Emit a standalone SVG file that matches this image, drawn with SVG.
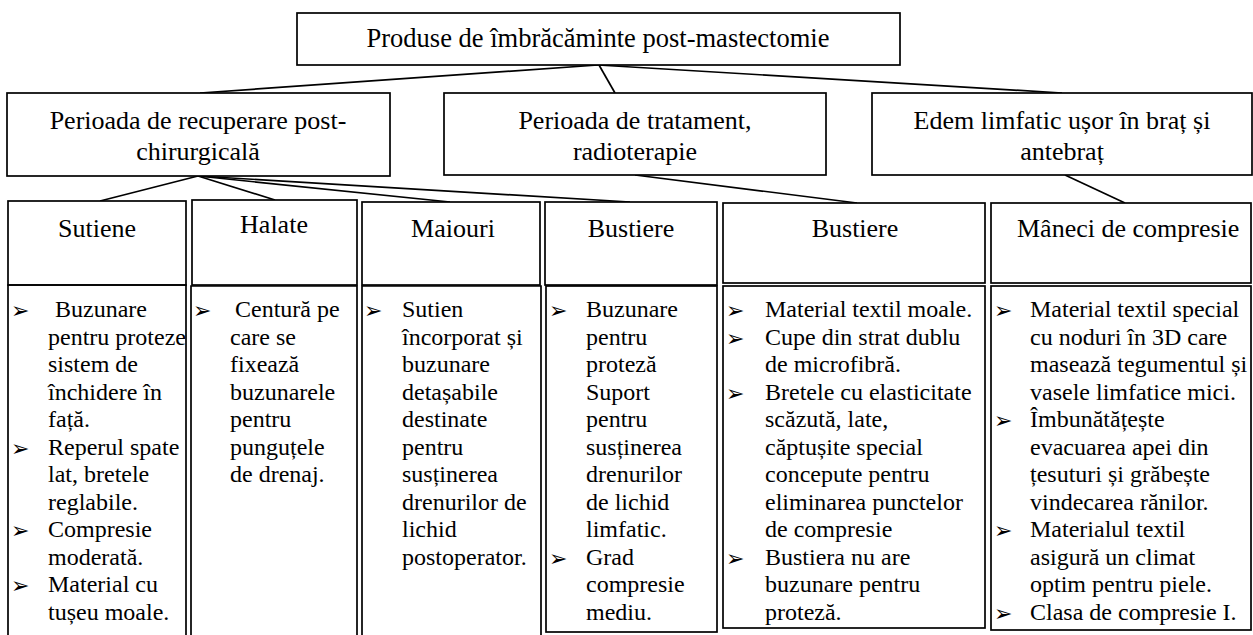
<svg xmlns="http://www.w3.org/2000/svg" width="1253" height="635" viewBox="0 0 1253 635">
<style>
.box{fill:#fff;stroke:#000;stroke-width:1.7}
.ln{stroke:#000;stroke-width:1.7;fill:none}
.t{font-family:"Liberation Serif","Times New Roman",serif;font-size:26px;fill:#000}
.c{text-anchor:middle}
.b{font-family:"Liberation Serif","Times New Roman",serif;font-size:24px;fill:#000}
.bu{font-family:"DejaVu Sans",sans-serif;font-size:22px;fill:#000}
</style>
<rect width="1253" height="635" fill="#fff"/>
<g id="connectors">
<line class="ln" x1="598" y1="65" x2="200" y2="93"/>
<line class="ln" x1="599" y1="65" x2="615" y2="93"/>
<line class="ln" x1="598" y1="65" x2="1062" y2="93"/>
<line class="ln" x1="198" y1="176" x2="100" y2="201"/>
<line class="ln" x1="198" y1="176" x2="275" y2="200"/>
<line class="ln" x1="198" y1="176" x2="450" y2="202"/>
<line class="ln" x1="198" y1="176" x2="630" y2="202"/>
<line class="ln" x1="635" y1="175" x2="857" y2="203"/>
<line class="ln" x1="1065" y1="175" x2="1125" y2="203"/>
</g>
<g id="root">
<rect class="box" x="297" y="13" width="603" height="52"/>
<text class="t c" x="598" y="47" style="font-size:26.5px">Produse de îmbrăcăminte post-mastectomie</text>
</g>
<g id="recuperare">
<rect class="box" x="7" y="93" width="383" height="83"/>
<text class="t c" x="198" y="129">Perioada de recuperare post-</text>
<text class="t c" x="198" y="160">chirurgicală</text>
</g>
<g id="tratament">
<rect class="box" x="444" y="93" width="382" height="82"/>
<text class="t c" x="635" y="129">Perioada de tratament,</text>
<text class="t c" x="635" y="160">radioterapie</text>
</g>
<g id="edem">
<rect class="box" x="872" y="93" width="380" height="82"/>
<text class="t c" x="1062" y="129">Edem limfatic ușor în braț și</text>
<text class="t c" x="1062" y="160">antebraț</text>
</g>
<g id="sutiene">
<rect class="box" x="8" y="201" width="178" height="84"/>
<path class="ln" d="M8,640 V285 H186 V640"/>
<text class="t c" x="97" y="237">Sutiene</text>
<text class="bu" x="11" y="318">➢</text><text class="bu" x="11" y="455.5">➢</text><text class="bu" x="11" y="538">➢</text><text class="bu" x="11" y="593">➢</text>
<text class="b" x="55" y="317">Buzunare</text>
<text class="b" x="48" y="344.5">pentru proteze</text>
<text class="b" x="48" y="372">sistem de</text>
<text class="b" x="48" y="399.5">închidere în</text>
<text class="b" x="48" y="427">față.</text>
<text class="b" x="48" y="454.5">Reperul spate</text>
<text class="b" x="48" y="482">lat, bretele</text>
<text class="b" x="48" y="509.5">reglabile.</text>
<text class="b" x="48" y="537">Compresie</text>
<text class="b" x="48" y="564.5">moderată.</text>
<text class="b" x="48" y="592">Material cu</text>
<text class="b" x="48" y="619.5">tușeu moale.</text>
</g>
<g id="halate">
<rect class="box" x="192" y="200" width="165" height="85"/>
<path class="ln" d="M191,640 V286 H357 V640"/>
<text class="t c" x="274" y="233">Halate</text>
<text class="bu" x="193" y="318">➢</text>
<text class="b" x="235" y="317">Centură pe</text>
<text class="b" x="230" y="344.5">care se</text>
<text class="b" x="230" y="372">fixează</text>
<text class="b" x="230" y="399.5">buzunarele</text>
<text class="b" x="230" y="427">pentru</text>
<text class="b" x="230" y="454.5">punguțele</text>
<text class="b" x="230" y="482">de drenaj.</text>
</g>
<g id="maiouri">
<rect class="box" x="362" y="202" width="178" height="83"/>
<path class="ln" d="M362,640 V286 H541 V640"/>
<text class="t c" x="453" y="237">Maiouri</text>
<text class="bu" x="364" y="318">➢</text>
<text class="b" x="402" y="317">Sutien</text>
<text class="b" x="402" y="344.5">încorporat și</text>
<text class="b" x="402" y="372">buzunare</text>
<text class="b" x="402" y="399.5">detașabile</text>
<text class="b" x="402" y="427">destinate</text>
<text class="b" x="402" y="454.5">pentru</text>
<text class="b" x="402" y="482">susținerea</text>
<text class="b" x="402" y="509.5">drenurilor de</text>
<text class="b" x="402" y="537">lichid</text>
<text class="b" x="402" y="564.5">postoperator.</text>
</g>
<g id="bustiere1">
<rect class="box" x="545" y="202" width="172" height="83"/>
<rect class="box" x="546" y="286" width="171" height="346"/>
<text class="t c" x="631" y="237">Bustiere</text>
<text class="bu" x="549" y="318">➢</text><text class="bu" x="549" y="565.5">➢</text>
<text class="b" x="586" y="317">Buzunare</text>
<text class="b" x="586" y="344.5">pentru</text>
<text class="b" x="586" y="372">proteză</text>
<text class="b" x="586" y="399.5">Suport</text>
<text class="b" x="586" y="427">pentru</text>
<text class="b" x="586" y="454.5">susținerea</text>
<text class="b" x="586" y="482">drenurilor</text>
<text class="b" x="586" y="509.5">de lichid</text>
<text class="b" x="586" y="537">limfatic.</text>
<text class="b" x="586" y="564.5">Grad</text>
<text class="b" x="586" y="592">compresie</text>
<text class="b" x="586" y="619.5">mediu.</text>
</g>
<g id="bustiere2">
<rect class="box" x="723" y="203" width="262" height="80"/>
<rect class="box" x="723" y="286" width="262" height="342"/>
<text class="t c" x="855" y="237">Bustiere</text>
<text class="bu" x="726" y="318">➢</text><text class="bu" x="726" y="345.5">➢</text><text class="bu" x="726" y="400.5">➢</text><text class="bu" x="726" y="565.5">➢</text>
<text class="b" x="765" y="317">Material textil moale.</text>
<text class="b" x="765" y="344.5">Cupe din strat dublu</text>
<text class="b" x="765" y="372">de microfibră.</text>
<text class="b" x="765" y="399.5">Bretele cu elasticitate</text>
<text class="b" x="765" y="427">scăzută, late,</text>
<text class="b" x="765" y="454.5">căptușite special</text>
<text class="b" x="765" y="482">concepute pentru</text>
<text class="b" x="765" y="509.5">eliminarea punctelor</text>
<text class="b" x="765" y="537">de compresie</text>
<text class="b" x="765" y="564.5">Bustiera nu are</text>
<text class="b" x="765" y="592">buzunare pentru</text>
<text class="b" x="765" y="619.5">proteză.</text>
</g>
<g id="maneci">
<rect class="box" x="991" y="203" width="260" height="80"/>
<rect class="box" x="991" y="286" width="260" height="344"/>
<text class="t" x="1017" y="237">Mâneci de compresie</text>
<text class="bu" x="994" y="318">➢</text><text class="bu" x="994" y="428">➢</text><text class="bu" x="994" y="538">➢</text><text class="bu" x="994" y="620.5">➢</text>
<text class="b" x="1030" y="317">Material textil special</text>
<text class="b" x="1030" y="344.5">cu noduri în 3D care</text>
<text class="b" x="1030" y="372">masează tegumentul și</text>
<text class="b" x="1030" y="399.5">vasele limfatice mici.</text>
<text class="b" x="1030" y="427">Îmbunătățește</text>
<text class="b" x="1030" y="454.5">evacuarea apei din</text>
<text class="b" x="1030" y="482">țesuturi și grăbește</text>
<text class="b" x="1030" y="509.5">vindecarea rănilor.</text>
<text class="b" x="1030" y="537">Materialul textil</text>
<text class="b" x="1030" y="564.5">asigură un climat</text>
<text class="b" x="1030" y="592">optim pentru piele.</text>
<text class="b" x="1030" y="619.5">Clasa de compresie I.</text>
</g>
</svg>
